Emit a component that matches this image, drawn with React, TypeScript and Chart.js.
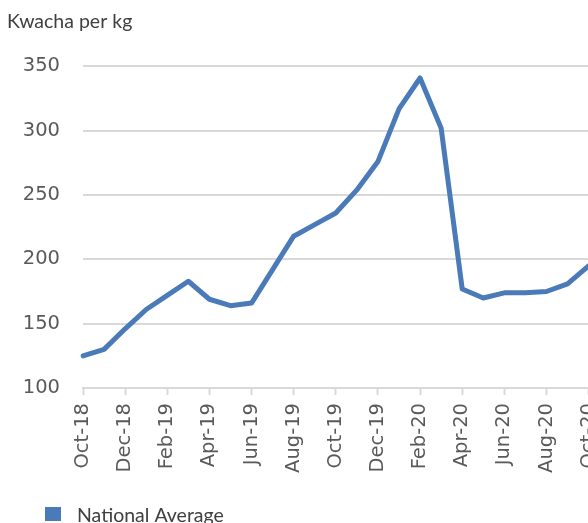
import React, { useEffect, useRef } from "react";
import { Chart, registerables } from "chart.js";

Chart.register(...registerables);

const months = [
  "Oct-18", "Nov-18", "Dec-18", "Jan-19", "Feb-19", "Mar-19", "Apr-19", "May-19",
  "Jun-19", "Jul-19", "Aug-19", "Sep-19", "Oct-19", "Nov-19", "Dec-19", "Jan-20",
  "Feb-20", "Mar-20", "Apr-20", "May-20", "Jun-20", "Jul-20", "Aug-20", "Sep-20", "Oct-20",
];
const nationalAverage = [
  125, 130, 146, 161, 172, 183, 169, 164,
  166, 192, 218, 227, 236, 254, 276, 317,
  341, 302, 177, 170, 174, 174, 175, 181, 195,
];
const seriesLabel = "National Average";
const yTitle = "Kwacha per kg";
const yMin = 100;
const yMax = 350;
const yStep = 50;

const LINE_COLOR = "#4a7ab8";
const GRID_COLOR = "#d9d9d9";
const TEXT_COLOR = "#404040";
const TICK_COLOR = "#595959";
const TICK_FONT = { family: "DejaVu Sans", size: 19.5 };

const legendPlugin = {
  id: "bottomLeftLegend",
  afterDraw(chart: any) {
    const ctx = chart.ctx;
    ctx.save();
    chart.data.datasets.forEach((ds: any) => {
      ctx.fillStyle = ds.borderColor;
      ctx.fillRect(45, 507, 16, 14);
      ctx.font = "19.5px Lato";
      ctx.fillStyle = TEXT_COLOR;
      ctx.textBaseline = "alphabetic";
      ctx.textAlign = "left";
      ctx.fillText(ds.label, 77, 522);
    });
    ctx.restore();
  },
};

export default function App() {
  const ref = useRef<HTMLCanvasElement>(null);
  useEffect(() => {
    if (!ref.current) return;
    const chart = new Chart(ref.current, {
      type: "line",
      data: {
        labels: months,
        datasets: [
          {
            label: seriesLabel,
            data: nationalAverage,
            borderColor: LINE_COLOR,
            backgroundColor: LINE_COLOR,
            borderWidth: 5,
            pointRadius: 0,
            tension: 0,
            borderJoinStyle: "round",
            borderCapStyle: "round",
          },
        ],
      },
      options: {
        animation: false,
        responsive: false,
        devicePixelRatio: 1,
        layout: { padding: { left: 7, right: 13, top: 0, bottom: 35 } },
        plugins: {
          legend: { display: false },
          tooltip: { enabled: false },
          title: {
            display: true,
            text: yTitle,
            align: "start",
            color: TEXT_COLOR,
            font: { family: "Lato", size: 19.5, weight: "normal" },
            padding: { top: 10, bottom: 33 },
          },
        },
        scales: {
          x: {
            offset: false,
            afterFit: (s: any) => {
              s.height = 100;
            },
            grid: {
              drawOnChartArea: false,
              drawTicks: true,
              tickLength: 7,
              tickWidth: 2,
              tickColor: (c: any) => (c.index % 2 === 0 ? GRID_COLOR : "rgba(0,0,0,0)"),
              color: GRID_COLOR,
            },
            border: { display: true, color: GRID_COLOR, width: 2 },
            ticks: {
              autoSkip: false,
              maxRotation: 90,
              minRotation: 90,
              padding: 8,
              color: TICK_COLOR,
              font: TICK_FONT,
              callback: (_v: any, i: number) => (i % 2 === 0 ? months[i] : ""),
            },
          },
          y: {
            min: yMin,
            max: yMax,
            afterFit: (s: any) => {
              s.width = 76;
            },
            grid: { color: GRID_COLOR, lineWidth: 2, drawTicks: false },
            border: { display: false },
            ticks: {
              stepSize: yStep,
              padding: 23,
              color: TICK_COLOR,
              font: TICK_FONT,
            },
          },
        },
      },
      plugins: [legendPlugin],
    });
    return () => chart.destroy();
  }, []);
  return (
    <div
      style={{
        position: "absolute",
        left: 0,
        top: 0,
        width: 588,
        height: 523,
        overflow: "hidden",
        background: "#fff",
      }}
    >
      <canvas ref={ref} width={620} height={523} style={{ display: "block" }} />
    </div>
  );
}
